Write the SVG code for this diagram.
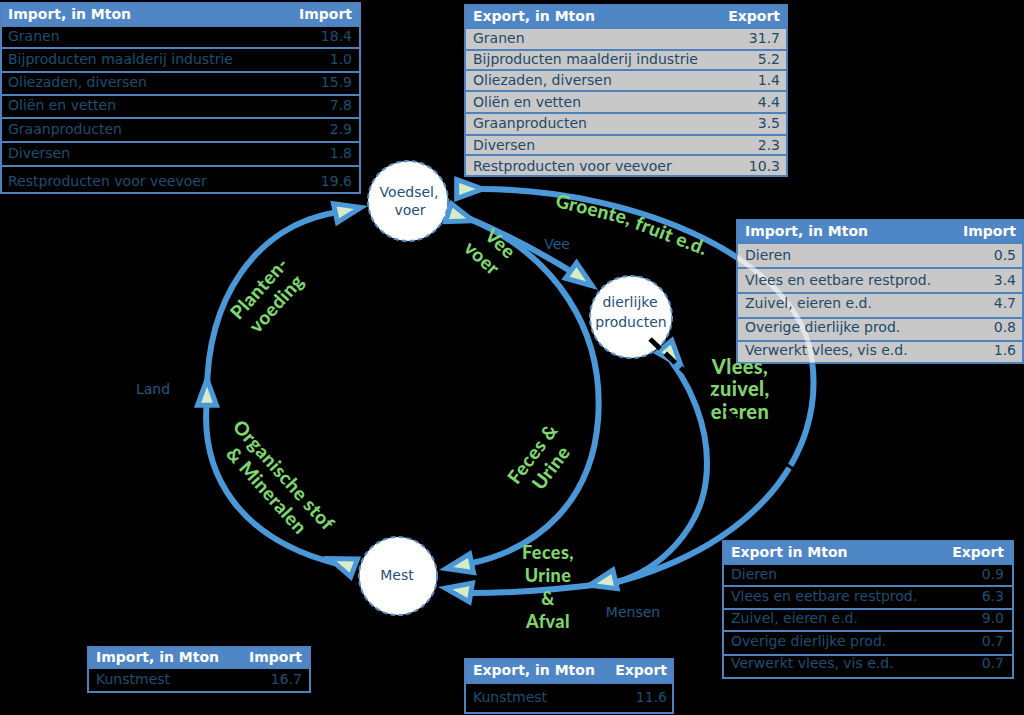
<svg xmlns="http://www.w3.org/2000/svg" xmlns:xlink="http://www.w3.org/1999/xlink" width="1024" height="715" viewBox="0 0 1024 715">
<style>
.hdr{fill:#4f86c6;stroke:#4f81bd;stroke-width:2}
.rd{fill:#000;stroke:#4f81bd;stroke-width:2}
.rg{fill:#c8c8c8;stroke:#4f81bd;stroke-width:2}
.ht{font-family:"DejaVu Sans",sans-serif;font-weight:bold;font-size:14px;fill:#fff}
.td{font-family:"DejaVu Sans",sans-serif;font-size:14px;fill:#1a4f72}
.tg{font-family:"DejaVu Sans",sans-serif;font-size:14px;fill:#1f4a68}
.r{text-anchor:end}
.flow{fill:none;stroke:#4a98d8;stroke-width:6}
.ah{fill:#d6ebc8;stroke:#4a98d8;stroke-width:5;stroke-linejoin:miter}
.node circle{fill:#fff;stroke:#5b93cc;stroke-width:2;stroke-dasharray:5 3}
.nt{font-family:"DejaVu Sans",sans-serif;font-size:14px;fill:#1f4e79;text-anchor:middle}
.gl{font-family:Lato,"DejaVu Sans",sans-serif;font-weight:900;font-size:19px;letter-spacing:0.4px;fill:#7fd56f;text-anchor:middle}
.gh{font-size:18px}
.gv{font-size:20px}
.bl{font-family:"DejaVu Sans",sans-serif;font-size:14px;fill:#1e5b84;text-anchor:middle}
</style>
<defs>
<path id="ah" d="M0,0 L-26,-9.5 L-26,9.5 Z"/>
<path id="bigarc" d="M482,189 C640,190 800,260 812,360 C825,455 755,545 617,582"/>
<clipPath id="t3clip"><rect x="737" y="243" width="286" height="120"/></clipPath>
</defs>
<rect width="1024" height="715" fill="#000"/>

<g id="connectors">
<path class="flow" d="M356,568 C235,545 200,470 207,400"/>
<path class="flow" d="M207,400 C205,300 255,225 338,212"/>
<use class="flow" xlink:href="#bigarc"/>
<path class="flow" d="M617,582 C580,587 520,593 472,593"/>
<path class="flow" d="M470,219 C555,255 605,330 598,420 C592,500 540,548 472,563"/>
<path class="flow" d="M470,219 Q520,240 572,272"/>
<path class="flow" d="M659,346 C690,380 712,430 706,480 C700,530 660,570 617,582"/>
<use class="ah" xlink:href="#ah" transform="translate(360.9,207.5) rotate(-12)"/>
<use class="ah" xlink:href="#ah" transform="translate(207,379.3) rotate(-90)"/>
<use class="ah" xlink:href="#ah" transform="translate(329.8,558.6) rotate(201)"/>
<use class="ah" xlink:href="#ah" transform="translate(446.1,568.5) rotate(168.3)"/>
<use class="ah" xlink:href="#ah" transform="translate(445.2,588.2) rotate(189.5)"/>
<use class="ah" xlink:href="#ah" transform="translate(589.7,585.2) rotate(167)"/>
<use class="ah" xlink:href="#ah" transform="translate(482.7,189) rotate(0)"/>
<use class="ah" xlink:href="#ah" transform="translate(473.1,220.7) rotate(18)"/>
<use class="ah" xlink:href="#ah" transform="translate(592.1,285.7) rotate(35.7)"/>
<use class="ah" xlink:href="#ah" transform="translate(681.3,366.4) rotate(50)"/>
</g>

<g id="table-import-voer">
<rect class="hdr" x="1" y="3" width="359" height="23"/>
<rect class="rd" x="1" y="26" width="359" height="22"/>
<rect class="rd" x="1" y="48" width="359" height="24"/>
<rect class="rd" x="1" y="72" width="359" height="23"/>
<rect class="rd" x="1" y="95" width="359" height="23"/>
<rect class="rd" x="1" y="118" width="359" height="24"/>
<rect class="rd" x="1" y="142" width="359" height="24"/>
<rect class="rd" x="1" y="166" width="359" height="27"/>
<text class="ht" x="8" y="19">Import, in Mton</text><text class="ht r" x="352" y="19">Import</text>
<text class="td" x="8" y="41">Granen</text><text class="td r" x="352" y="41">18.4</text>
<text class="td" x="8" y="64">Bijproducten maalderij industrie</text><text class="td r" x="352" y="64">1.0</text>
<text class="td" x="8" y="87">Oliezaden, diversen</text><text class="td r" x="352" y="87">15.9</text>
<text class="td" x="8" y="110">Oliën en vetten</text><text class="td r" x="352" y="110">7.8</text>
<text class="td" x="8" y="134">Graanproducten</text><text class="td r" x="352" y="134">2.9</text>
<text class="td" x="8" y="158">Diversen</text><text class="td r" x="352" y="158">1.8</text>
<text class="td" x="8" y="186">Restproducten voor veevoer</text><text class="td r" x="352" y="186">19.6</text>
</g>

<g id="table-export-voer">
<rect class="hdr" x="465" y="5" width="322" height="23"/>
<rect class="rg" x="465" y="28" width="322" height="22"/>
<rect class="rg" x="465" y="50" width="322" height="20"/>
<rect class="rg" x="465" y="70" width="322" height="21"/>
<rect class="rg" x="465" y="91" width="322" height="22"/>
<rect class="rg" x="465" y="113" width="322" height="22"/>
<rect class="rg" x="465" y="135" width="322" height="20"/>
<rect class="rg" x="465" y="155" width="322" height="21"/>
<text class="ht" x="473" y="21">Export, in Mton</text><text class="ht r" x="780" y="21">Export</text>
<text class="tg" x="473" y="43">Granen</text><text class="tg r" x="780" y="43">31.7</text>
<text class="tg" x="473" y="64">Bijproducten maalderij industrie</text><text class="tg r" x="780" y="64">5.2</text>
<text class="tg" x="473" y="85">Oliezaden, diversen</text><text class="tg r" x="780" y="85">1.4</text>
<text class="tg" x="473" y="107">Oliën en vetten</text><text class="tg r" x="780" y="107">4.4</text>
<text class="tg" x="473" y="128">Graanproducten</text><text class="tg r" x="780" y="128">3.5</text>
<text class="tg" x="473" y="150">Diversen</text><text class="tg r" x="780" y="150">2.3</text>
<text class="tg" x="473" y="171">Restproducten voor veevoer</text><text class="tg r" x="780" y="171">10.3</text>
</g>

<g id="table-import-dier">
<rect class="hdr" x="737" y="220" width="286" height="23"/>
<rect class="rg" x="737" y="243" width="286" height="25"/>
<rect class="rg" x="737" y="268" width="286" height="25"/>
<rect class="rg" x="737" y="293" width="286" height="25"/>
<rect class="rg" x="737" y="318" width="286" height="23"/>
<rect class="rg" x="737" y="341" width="286" height="22"/>
<use xlink:href="#bigarc" clip-path="url(#t3clip)" fill="none" stroke="#fff" stroke-opacity="0.55" stroke-width="5"/>
<text class="ht" x="745" y="236">Import, in Mton</text><text class="ht r" x="1016" y="236">Import</text>
<text class="tg" x="745" y="260">Dieren</text><text class="tg r" x="1016" y="260">0.5</text>
<text class="tg" x="745" y="285">Vlees en eetbare restprod.</text><text class="tg r" x="1016" y="285">3.4</text>
<text class="tg" x="745" y="308">Zuivel, eieren e.d.</text><text class="tg r" x="1016" y="308">4.7</text>
<text class="tg" x="745" y="332">Overige dierlijke prod.</text><text class="tg r" x="1016" y="332">0.8</text>
<text class="tg" x="745" y="355">Verwerkt vlees, vis e.d.</text><text class="tg r" x="1016" y="355">1.6</text>
</g>

<g id="table-export-dier">
<rect class="hdr" x="723" y="541" width="290" height="23"/>
<rect class="rd" x="723" y="564" width="290" height="22"/>
<rect class="rd" x="723" y="586" width="290" height="23"/>
<rect class="rd" x="723" y="609" width="290" height="22"/>
<rect class="rd" x="723" y="631" width="290" height="24"/>
<rect class="rd" x="723" y="655" width="290" height="23"/>
<text class="ht" x="731" y="557">Export in Mton</text><text class="ht r" x="1004" y="557">Export</text>
<text class="td" x="731" y="579">Dieren</text><text class="td r" x="1004" y="579">0.9</text>
<text class="td" x="731" y="601">Vlees en eetbare restprod.</text><text class="td r" x="1004" y="601">6.3</text>
<text class="td" x="731" y="623">Zuivel, eieren e.d.</text><text class="td r" x="1004" y="623">9.0</text>
<text class="td" x="731" y="646">Overige dierlijke prod.</text><text class="td r" x="1004" y="646">0.7</text>
<text class="td" x="731" y="668">Verwerkt vlees, vis e.d.</text><text class="td r" x="1004" y="668">0.7</text>
</g>

<g id="table-import-mest">
<rect class="hdr" x="88" y="647" width="222" height="21"/>
<rect class="rd" x="88" y="668" width="222" height="24"/>
<text class="ht" x="96" y="662">Import, in Mton</text><text class="ht r" x="302" y="662">Import</text>
<text class="td" x="96" y="684">Kunstmest</text><text class="td r" x="302" y="684">16.7</text>
</g>

<g id="table-export-mest">
<rect class="hdr" x="465" y="659" width="208" height="24"/>
<rect class="rd" x="465" y="683" width="208" height="30"/>
<text class="ht" x="473" y="675">Export, in Mton</text><text class="ht r" x="667" y="675">Export</text>
<text class="td" x="473" y="702">Kunstmest</text><text class="td r" x="667" y="702">11.6</text>
</g>

<g id="node-voedsel" class="node">
<circle cx="408" cy="201" r="40"/>
<text class="nt" x="409" y="197">Voedsel,</text>
<text class="nt" x="410" y="215">voer</text>
</g>
<g id="node-dierlijke" class="node">
<circle cx="631" cy="317" r="41"/>
<text class="nt" x="630" y="307">dierlijke</text>
<text class="nt" x="631" y="327">producten</text>
</g>
<g id="node-mest" class="node">
<circle cx="398" cy="576" r="39"/>
<text class="nt" x="397" y="580">Mest</text>
</g>

<g id="labels">
<text class="bl" x="153" y="394">Land</text>
<text class="bl" x="557" y="249">Vee</text>
<text class="bl" x="633" y="617">Mensen</text>
<g transform="translate(268,296) rotate(-48)"><text class="gl" x="0" y="-5">Planten-</text><text class="gl" x="0" y="18">voeding</text></g>
<g transform="translate(275,483) rotate(48)"><text class="gl" x="0" y="-5">Organische stof</text><text class="gl" x="0" y="18">&amp; Mineralen</text></g>
<g transform="translate(491,251) rotate(42)"><text class="gl" x="2" y="-5">Vee</text><text class="gl" x="-2" y="18">voer</text></g>
<g transform="translate(542,461) rotate(-53)"><text class="gl" x="0" y="-5">Feces &amp;</text><text class="gl" x="0" y="18">Urine</text></g>
<text class="gl" transform="translate(592,216) rotate(14)">Groente,</text>
<text class="gl" transform="translate(669,242) rotate(21)">fruit e.d.</text>
<text class="gl gv" x="740" y="374">Vlees,</text>
<text class="gl gv" x="740" y="396">zuivel,</text>
<text class="gl gv" x="740" y="419">eieren</text>
<text class="gl gh" x="548" y="559">Feces,</text>
<text class="gl gh" x="548" y="582">Urine</text>
<text class="gl gh" x="548" y="605">&amp;</text>
<text class="gl gh" x="548" y="628">Afval</text>
</g>

<g id="cuts">
<line x1="650" y1="339" x2="736" y2="420" stroke="#000" stroke-width="5" stroke-dasharray="14 7"/>
<line x1="781" y1="461" x2="795" y2="470" stroke="#000" stroke-width="3"/>
</g>
</svg>
